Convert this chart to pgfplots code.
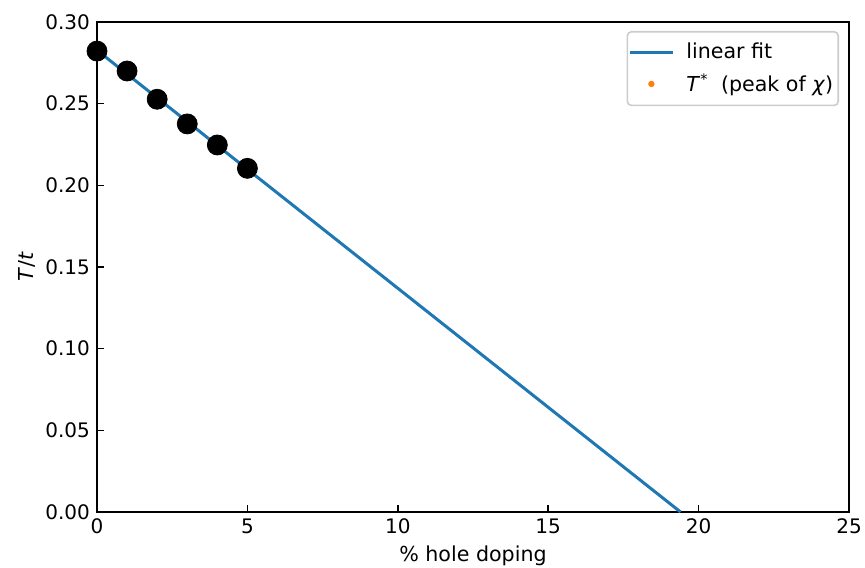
\documentclass[border=0pt]{standalone}
\usepackage{fontspec}
\setmainfont{DejaVu Sans}
\usepackage{pgfplots}
\pgfplotsset{compat=1.18}
\definecolor{mplblue}{HTML}{1F77B4}
\definecolor{mplorange}{HTML}{FF7F0E}
\pgfplotsset{
  mylinelegend/.style={legend image code/.code={\draw[##1] (0pt,0pt) -- (21.5pt,0pt);}},
  mydotlegend/.style={legend image code/.code={\path[draw=none] (0pt,0pt) -- (21.5pt,0pt); \fill[mplorange, draw=none] (10.75pt,0pt) circle (1.6pt);}},
}
\begin{document}
\begin{tikzpicture}
\begin{axis}[
  scale only axis,
  width=376pt, height=245pt,
  xmin=0, xmax=25, ymin=0, ymax=0.30,
  xtick={0,5,10,15,20,25},
  ytick={0,0.05,0.10,0.15,0.20,0.25,0.30},
  tick pos=left,
  tick align=inside,
  major tick length=3.5pt,
  axis line style={line width=0.8pt},
  every tick/.style={line width=0.8pt, black},
  /pgf/number format/assume math mode=true,
  yticklabel style={/pgf/number format/.cd, fixed, fixed zerofill, precision=2},
  ticklabel style={font=\fontsize{10}{12}\selectfont},
  xlabel={\% hole doping},
  ylabel={\textit{T}/\textit{t}},
  label style={font=\fontsize{10.3}{12}\selectfont},
  xlabel style={yshift=1pt},
  ylabel style={yshift=-2pt},
  legend style={
    at={(1,1)}, anchor=north east, xshift=-5pt, yshift=-4.5pt,
    draw=black!20, rounded corners=2pt, line width=0.8pt,
    font=\fontsize{10.3}{12}\selectfont,
    row sep=2pt, inner xsep=0.5pt, inner ysep=3.5pt,
    /tikz/every odd column/.append style={column sep=4pt},
  },
  legend cell align=left,
]
\addplot[mplblue, line width=1.5pt, mylinelegend] coordinates {(0,0.2827) (19.40,0)};
\addlegendentry{linear fit}
\addlegendimage{mydotlegend}
\addlegendentry{\textit{T}\textsuperscript{*}\hspace{3pt} (peak of \textit{χ})}
\addplot[only marks, mark=*, mark size=5pt, black, forget plot] coordinates {
(0,0.2822) (1,0.2700) (2,0.2527) (3,0.2376) (4,0.2247) (5,0.2104)};
\end{axis}
\pgfresetboundingbox
\path (current axis.south west) ++(-48.5pt,-27.5pt) rectangle ([shift={(8pt,11pt)}]current axis.north east);
\end{tikzpicture}
\end{document}
